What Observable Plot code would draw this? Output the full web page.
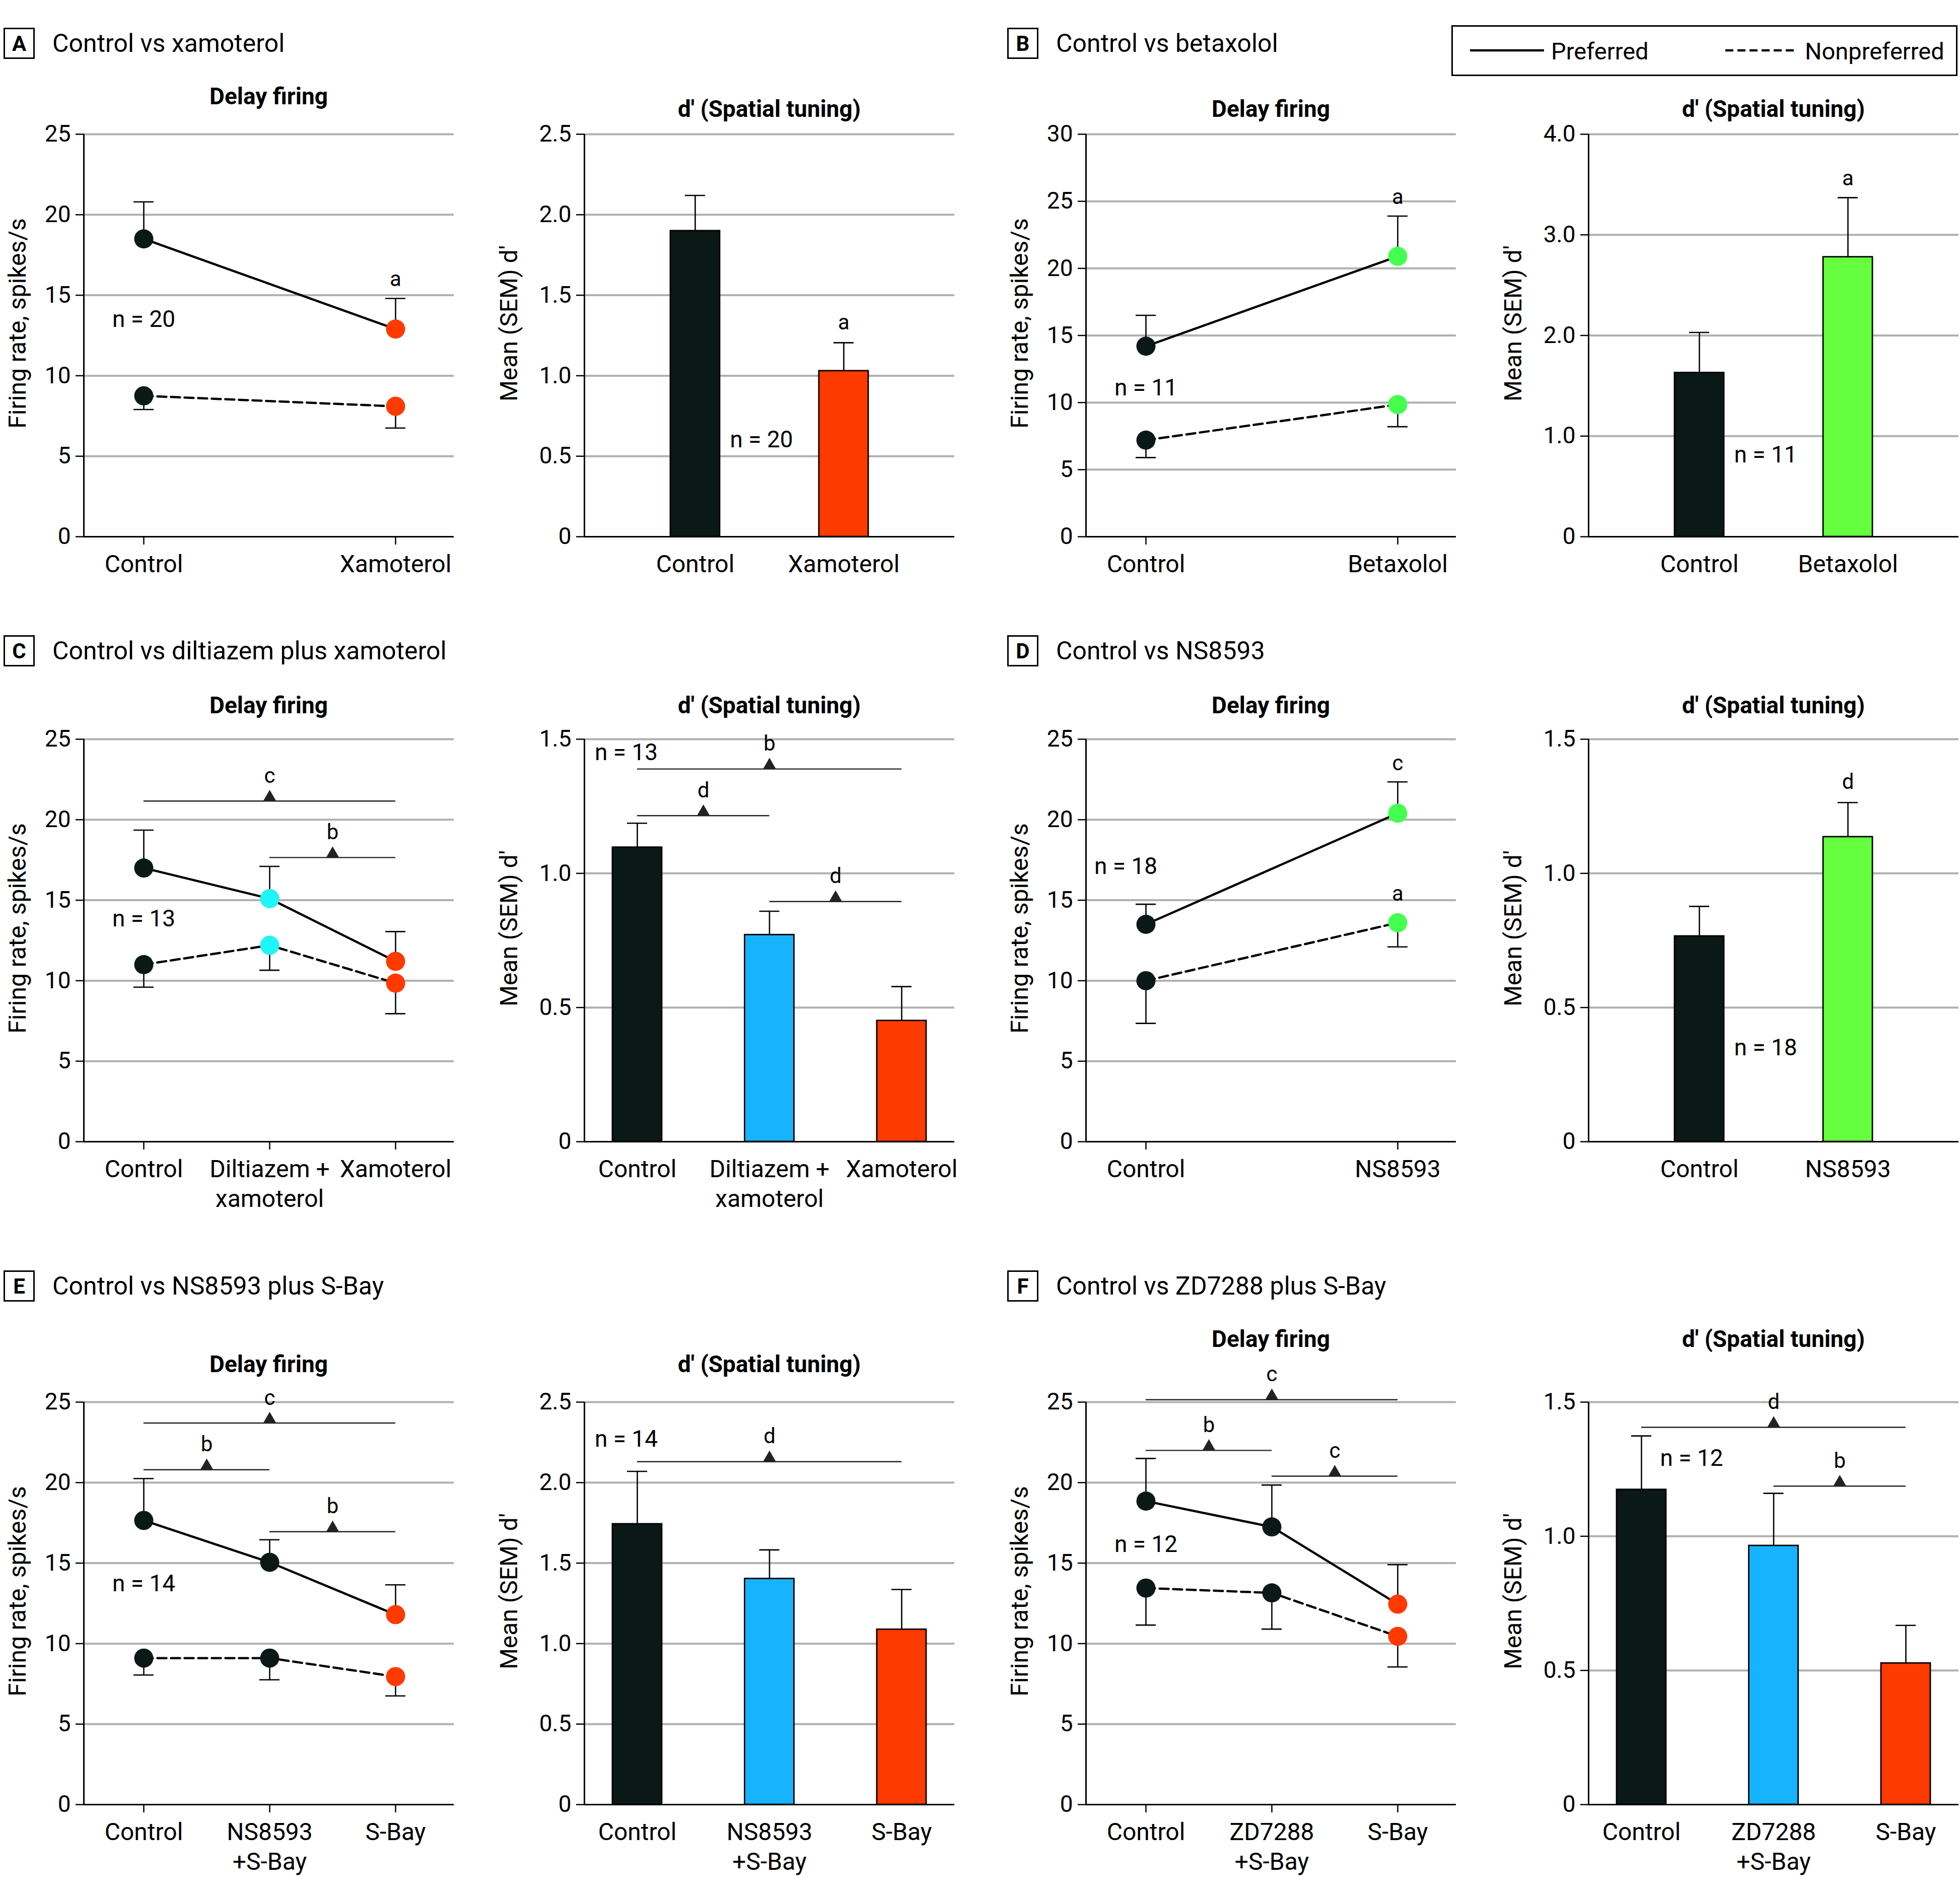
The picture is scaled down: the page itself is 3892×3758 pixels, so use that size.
<!DOCTYPE html>
<html><head><meta charset="utf-8">
<script src="https://cdn.jsdelivr.net/npm/d3@7"></script>
<script src="https://cdn.jsdelivr.net/npm/@observablehq/plot@0.6"></script>
<style>
body{margin:0;background:#fff;}
#root{position:relative;width:3892px;height:3758px;background:#fff;font-family:Roboto,"DejaVu Sans",sans-serif;color:#000;overflow:hidden}
.hdr{position:absolute;display:flex;align-items:center;font-size:50px;white-space:nowrap;height:62px}
.box{box-sizing:border-box;display:inline-flex;align-items:center;justify-content:center;width:62px;height:62px;border:3px solid #000;font-weight:700;font-size:42px;margin-right:35px}
.sub{position:absolute;font-weight:700;font-size:46px;white-space:nowrap;transform:translate(-50%,-50%)}
.plot{position:absolute}
.legend{position:absolute;box-sizing:border-box;border:3px solid #000;font-size:47px}
.legend span{position:absolute;top:50%;transform:translateY(-50%);white-space:nowrap}
</style></head><body><div id="root"></div><script>
// ---------------- DATA ----------------
// Panel A: Control vs xamoterol
const aCats = ["Control", "Xamoterol"];
const aPref = [18.5, 12.9];
const aPrefSem = [2.3, 1.9];
const aNonpref = [8.75, 8.1];
const aNonprefSem = [0.85, 1.35];
const aDprime = [1.9, 1.03];
const aDprimeSem = [0.22, 0.175];
const aDelayLetters = [{x: 1, y: 16.0, label: "a"}];
const aDprimeLetters = [{x: 1, y: 1.33, label: "a"}];

// Panel B: Control vs betaxolol
const bCats = ["Control", "Betaxolol"];
const bPref = [14.2, 20.9];
const bPrefSem = [2.3, 3.0];
const bNonpref = [7.2, 9.85];
const bNonprefSem = [1.3, 1.65];
const bDprime = [1.63, 2.78];
const bDprimeSem = [0.4, 0.59];
const bDelayLetters = [{x: 1, y: 25.3, label: "a"}];
const bDprimeLetters = [{x: 1, y: 3.56, label: "a"}];

// Panel C: Control vs diltiazem plus xamoterol
const cCats = ["Control", "Diltiazem +\nxamoterol", "Xamoterol"];
const cPref = [17.0, 15.1, 11.2];
const cPrefSem = [2.35, 2.0, 1.85];
const cNonpref = [11.0, 12.2, 9.85];
const cNonprefSem = [1.4, 1.55, 1.9];
const cDprime = [1.097, 0.771, 0.451];
const cDprimeSem = [0.09, 0.088, 0.127];
const cDelayBrackets = [{from: 0, to: 2, y: 21.16, label: "c"}, {from: 1, to: 2, y: 17.65, label: "b"}];
const cDprimeBrackets = [{from: 0, to: 2, y: 1.389, label: "b"}, {from: 0, to: 1, y: 1.215, label: "d"}, {from: 1, to: 2, y: 0.895, label: "d"}];

// Panel D: Control vs NS8593
const dCats = ["Control", "NS8593"];
const dPref = [13.5, 20.4];
const dPrefSem = [1.25, 1.95];
const dNonpref = [10.0, 13.6];
const dNonprefSem = [2.65, 1.5];
const dDprime = [0.766, 1.136];
const dDprimeSem = [0.111, 0.128];
const dDelayLetters = [{x: 1, y: 23.5, label: "c"}, {x: 1, y: 15.4, label: "a"}];
const dDprimeLetters = [{x: 1, y: 1.34, label: "d"}];

// Panel E: Control vs NS8593 plus S-Bay
const eCats = ["Control", "NS8593\n+S-Bay", "S-Bay"];
const ePref = [17.65, 15.05, 11.8];
const ePrefSem = [2.6, 1.4, 1.85];
const eNonpref = [9.1, 9.1, 7.95];
const eNonprefSem = [1.05, 1.35, 1.2];
const eDprime = [1.743, 1.403, 1.088];
const eDprimeSem = [0.327, 0.179, 0.248];
const eDelayBrackets = [{from: 0, to: 2, y: 23.7, label: "c"}, {from: 0, to: 1, y: 20.8, label: "b"}, {from: 1, to: 2, y: 16.95, label: "b"}];
const eDprimeBrackets = [{from: 0, to: 2, y: 2.13, label: "d"}];

// Panel F: Control vs ZD7288 plus S-Bay
const fCats = ["Control", "ZD7288\n+S-Bay", "S-Bay"];
const fPref = [18.85, 17.25, 12.45];
const fPrefSem = [2.65, 2.6, 2.45];
const fNonpref = [13.45, 13.15, 10.45];
const fNonprefSem = [2.3, 2.25, 1.9];
const fDprime = [1.174, 0.965, 0.527];
const fDprimeSem = [0.2, 0.195, 0.141];
const fDelayBrackets = [{from: 0, to: 2, y: 25.15, label: "c"}, {from: 0, to: 1, y: 22.0, label: "b"}, {from: 1, to: 2, y: 20.4, label: "c"}];
const fDprimeBrackets = [{from: 0, to: 2, y: 1.406, label: "d"}, {from: 1, to: 2, y: 1.187, label: "b"}];

// sample sizes
const nA = "n = 20", nB = "n = 11", nC = "n = 13", nD = "n = 18", nE = "n = 14", nF = "n = 12";

// texts
const panelLetters = ["A", "B", "C", "D", "E", "F"];
const panelTitles = ["Control vs xamoterol", "Control vs betaxolol", "Control vs diltiazem plus xamoterol",
  "Control vs NS8593", "Control vs NS8593 plus S-Bay", "Control vs ZD7288 plus S-Bay"];
const delayTitle = "Delay firing";
const dprimeTitle = "d' (Spatial tuning)";
const delayYLabel = "Firing rate, spikes/s";
const dprimeYLabel = "Mean (SEM) d'";
const legendLabels = ["Preferred", "Nonpreferred"];

// ---------------- STYLE / LAYOUT ----------------
const FONT = 'Roboto, "DejaVu Sans", sans-serif';
const COL = {black: "#0a1816", orange: "#ff3a00", greenDot: "#44ff50", greenBar: "#66ff40", cyan: "#1ff4f6", blue: "#16b3ff"};
const GRID = "#b0b0b0";
const colAxisX = [166, 1160, 2156, 3154];
const rowTop = [266, 1467, 2783];
const PW = 735, PH = 799;
const ML = 170, MR = 6, MT = 110, MB = 180;
const XLAY = {delay: {first: 119, last: 619}, bar2: {first: 220, last: 515}, bar3: {first: 105, last: 630}};

const root = document.getElementById("root");

function xGeom(kind, n) {
  const L = XLAY[kind];
  const step = (L.last - L.first) / (n - 1);
  return {step, lo: -L.first / step, hi: (n - 1) + (PW - L.last) / step};
}

function frameMarks(cats, yMax, yStep, fmt, yLabel, yLabelDx, lo, xTickSize) {
  const ticks = d3.range(0, yMax + 1e-9, yStep);
  return [
    Plot.ruleY(ticks.filter(t => t > 0), {y: d => d, stroke: GRID, strokeWidth: 4}),
    Plot.axisY({ticks, tickFormat: fmt, tickSize: 16, tickPadding: 10, fontSize: 46, strokeWidth: 2.5, label: null}),
    Plot.axisX({ticks: d3.range(cats.length), tickFormat: i => cats[i], tickSize: xTickSize, tickPadding: xTickSize ? 13 : 29,
      fontSize: 48, strokeWidth: 2.5, lineHeight: 1.22, label: null}),
    Plot.ruleX([lo], {x: d => d, y1: 0, y2: yMax, strokeWidth: 3}),
    Plot.ruleY([0], {y: d => d, strokeWidth: 3}),
    Plot.text([yLabel], {text: d => d, frameAnchor: "left", rotate: -90, dx: yLabelDx, dy: -24, fontSize: 48, textAnchor: "middle"})
  ];
}

function bracketMarks(br) {
  if (!br || !br.length) return [];
  const mid = d => (d.from + d.to) / 2;
  return [
    Plot.ruleY(br, {y: "y", x1: "from", x2: "to", strokeWidth: 2.4, stroke: "#222"}),
    Plot.dot(br, {x: mid, y: "y", symbol: "triangle", r: 9.5, fill: "#222", stroke: "none", dy: -7.5}),
    Plot.text(br, {x: mid, y: "y", text: "label", dy: -50, fontSize: 42})
  ];
}

function letterMarks(ls) {
  if (!ls || !ls.length) return [];
  return [Plot.text(ls, {x: "x", y: "y", text: "label", fontSize: 42})];
}

function nMark(text, y, nStyle) {
  return Plot.text([{x: 0, y, text}], {x: "x", y: "y", text: "text", fontSize: 46,
    textAnchor: nStyle.anchor || "middle", dx: nStyle.dx || 0});
}

function place(svg, row, col) {
  svg.classList.add("plot");
  svg.style.left = (colAxisX[col] - ML) + "px";
  svg.style.top = (rowTop[row] - MT) + "px";
  svg.style.overflow = "visible";
  root.appendChild(svg);
}

function delayPlot(p) {
  const n = p.cats.length;
  const g = xGeom("delay", n);
  const cap = 20 / g.step;
  const prefRows = p.cats.map((c, i) => ({i, v: p.pref[i], sem: p.prefSem[i], color: p.dotColors[i]}));
  const nonRows = p.cats.map((c, i) => ({i, v: p.nonpref[i], sem: p.nonprefSem[i], color: p.dotColors[i]}));
  const svg = Plot.plot({
    width: ML + PW + MR, height: MT + PH + MB,
    marginLeft: ML, marginRight: MR, marginTop: MT, marginBottom: MB,
    x: {domain: [g.lo, g.hi]}, y: {domain: [0, p.yMax]},
    color: {type: "identity"},
    style: {fontFamily: FONT, background: "transparent", color: "#000"},
    marks: [
      ...frameMarks(p.cats, p.yMax, 5, d => String(d), delayYLabel, -131, g.lo, 16),
      ...bracketMarks(p.brackets),
      ...letterMarks(p.letters),
      nMark(p.nText, p.nY, p.nStyle || {}),
      Plot.ruleX(prefRows, {x: "i", y1: "v", y2: d => d.v + d.sem, strokeWidth: 2.6}),
      Plot.ruleY(prefRows, {y: d => d.v + d.sem, x1: d => d.i - cap, x2: d => d.i + cap, strokeWidth: 2.6}),
      Plot.ruleX(nonRows, {x: "i", y1: "v", y2: d => d.v - d.sem, strokeWidth: 2.6}),
      Plot.ruleY(nonRows, {y: d => d.v - d.sem, x1: d => d.i - cap, x2: d => d.i + cap, strokeWidth: 2.6}),
      Plot.line(prefRows, {x: "i", y: "v", stroke: "#000", strokeWidth: 4.5}),
      Plot.line(nonRows, {x: "i", y: "v", stroke: "#000", strokeWidth: 4.5, strokeDasharray: "18,9"}),
      Plot.dot(prefRows.concat(nonRows), {x: "i", y: "v", r: 19, fill: "color", stroke: "none"})
    ]
  });
  place(svg, p.row, p.col);
}

function barPlot(p) {
  const n = p.cats.length;
  const g = xGeom(n === 2 ? "bar2" : "bar3", n);
  const hw = 49 / g.step, cap = 20 / g.step;
  const rows = p.cats.map((c, i) => ({i, v: p.vals[i], sem: p.sems[i], color: p.barColors[i]}));
  const fmt = d => d === 0 ? "0" : d.toFixed(1);
  const svg = Plot.plot({
    width: ML + PW + MR, height: MT + PH + MB,
    marginLeft: ML, marginRight: MR, marginTop: MT, marginBottom: MB,
    x: {domain: [g.lo, g.hi]}, y: {domain: [0, p.yMax]},
    color: {type: "identity"},
    style: {fontFamily: FONT, background: "transparent", color: "#000"},
    marks: [
      ...frameMarks(p.cats, p.yMax, p.yStep, fmt, dprimeYLabel, -149, g.lo, 0),
      Plot.ruleX(rows, {x: "i", y1: "v", y2: d => d.v + d.sem, strokeWidth: 2.6}),
      Plot.ruleY(rows, {y: d => d.v + d.sem, x1: d => d.i - cap, x2: d => d.i + cap, strokeWidth: 2.6}),
      Plot.rectY(rows, {x1: d => d.i - hw, x2: d => d.i + hw, y1: 0, y2: "v", fill: "color", stroke: "#000", strokeWidth: 2.8}),
      Plot.ruleY([0], {y: d => d, strokeWidth: 3}),
      ...bracketMarks(p.brackets),
      ...letterMarks(p.letters),
      nMark(p.nText, p.nY, p.nStyle || {})
    ]
  });
  place(svg, p.row, p.col);
}

// ---------------- PANELS ----------------
const K = COL.black, O = COL.orange;
delayPlot({row: 0, col: 0, cats: aCats, pref: aPref, prefSem: aPrefSem, nonpref: aNonpref, nonprefSem: aNonprefSem,
  yMax: 25, dotColors: [K, O], letters: aDelayLetters, nText: nA, nY: 13.5});
barPlot({row: 0, col: 1, cats: aCats, vals: aDprime, sems: aDprimeSem, yMax: 2.5, yStep: 0.5, barColors: [K, O],
  letters: aDprimeLetters, nText: nA, nY: 0.6, nStyle: {anchor: "start", dx: 69}});
delayPlot({row: 0, col: 2, cats: bCats, pref: bPref, prefSem: bPrefSem, nonpref: bNonpref, nonprefSem: bNonprefSem,
  yMax: 30, dotColors: [K, COL.greenDot], letters: bDelayLetters, nText: nB, nY: 11.1});
barPlot({row: 0, col: 3, cats: bCats, vals: bDprime, sems: bDprimeSem, yMax: 4, yStep: 1, barColors: [K, COL.greenBar],
  letters: bDprimeLetters, nText: nB, nY: 0.81, nStyle: {anchor: "start", dx: 69}});
delayPlot({row: 1, col: 0, cats: cCats, pref: cPref, prefSem: cPrefSem, nonpref: cNonpref, nonprefSem: cNonprefSem,
  yMax: 25, dotColors: [K, COL.cyan, O], brackets: cDelayBrackets, nText: nC, nY: 13.85});
barPlot({row: 1, col: 1, cats: cCats, vals: cDprime, sems: cDprimeSem, yMax: 1.5, yStep: 0.5, barColors: [K, COL.blue, O],
  brackets: cDprimeBrackets, nText: nC, nY: 1.45, nStyle: {dx: -22}});
delayPlot({row: 1, col: 2, cats: dCats, pref: dPref, prefSem: dPrefSem, nonpref: dNonpref, nonprefSem: dNonprefSem,
  yMax: 25, dotColors: [K, COL.greenDot], letters: dDelayLetters, nText: nD, nY: 17.1, nStyle: {dx: -40}});
barPlot({row: 1, col: 3, cats: dCats, vals: dDprime, sems: dDprimeSem, yMax: 1.5, yStep: 0.5, barColors: [K, COL.greenBar],
  letters: dDprimeLetters, nText: nD, nY: 0.35, nStyle: {anchor: "start", dx: 69}});
delayPlot({row: 2, col: 0, cats: eCats, pref: ePref, prefSem: ePrefSem, nonpref: eNonpref, nonprefSem: eNonprefSem,
  yMax: 25, dotColors: [K, K, O], brackets: eDelayBrackets, nText: nE, nY: 13.7});
barPlot({row: 2, col: 1, cats: eCats, vals: eDprime, sems: eDprimeSem, yMax: 2.5, yStep: 0.5, barColors: [K, COL.blue, O],
  brackets: eDprimeBrackets, nText: nE, nY: 2.27, nStyle: {dx: -22}});
delayPlot({row: 2, col: 2, cats: fCats, pref: fPref, prefSem: fPrefSem, nonpref: fNonpref, nonprefSem: fNonprefSem,
  yMax: 25, dotColors: [K, K, O], brackets: fDelayBrackets, nText: nF, nY: 16.15});
barPlot({row: 2, col: 3, cats: fCats, vals: fDprime, sems: fDprimeSem, yMax: 1.5, yStep: 0.5, barColors: [K, COL.blue, O],
  brackets: fDprimeBrackets, nText: nF, nY: 1.29, nStyle: {anchor: "start", dx: 37}});

// ---------------- HEADERS / TITLES ----------------
const hdrPos = [[7, 55], [2000, 55], [7, 1261], [2000, 1261], [7, 2522], [2000, 2522]];
panelLetters.forEach((L, k) => {
  const d = document.createElement("div");
  d.className = "hdr";
  d.style.left = hdrPos[k][0] + "px"; d.style.top = hdrPos[k][1] + "px";
  const b = document.createElement("span"); b.className = "box"; b.textContent = L;
  const t = document.createElement("span"); t.textContent = panelTitles[k];
  d.appendChild(b); d.appendChild(t);
  root.appendChild(d);
});
const subY = [[191, 216, 216, 216], [1400, 1400, 1400, 1400], [2708, 2708, 2658, 2658]];
for (let r = 0; r < 3; r++) for (let c = 0; c < 4; c++) {
  const d = document.createElement("div");
  d.className = "sub";
  d.textContent = c % 2 === 0 ? delayTitle : dprimeTitle;
  d.style.left = (colAxisX[c] + PW / 2) + "px";
  d.style.top = subY[r][c] + "px";
  root.appendChild(d);
}

// ---------------- LEGEND ----------------
const lg = document.createElement("div");
lg.className = "legend";
Object.assign(lg.style, {left: "2882px", top: "50px", width: "1005px", height: "101px"});
const ns = "http://www.w3.org/2000/svg";
const lsvg = document.createElementNS(ns, "svg");
lsvg.setAttribute("width", "1000"); lsvg.setAttribute("height", "95");
lsvg.style.position = "absolute"; lsvg.style.left = "0"; lsvg.style.top = "0";
[[34, 181, null], [541, 685, "16,8"]].forEach(([x1, x2, dash]) => {
  const l = document.createElementNS(ns, "line");
  l.setAttribute("x1", x1); l.setAttribute("x2", x2); l.setAttribute("y1", 47); l.setAttribute("y2", 47);
  l.setAttribute("stroke", "#000"); l.setAttribute("stroke-width", "4.5");
  if (dash) l.setAttribute("stroke-dasharray", dash);
  lsvg.appendChild(l);
});
lg.appendChild(lsvg);
[[195, legendLabels[0]], [699, legendLabels[1]]].forEach(([x, t]) => {
  const s = document.createElement("span"); s.style.left = x + "px"; s.textContent = t; lg.appendChild(s);
});
root.appendChild(lg);
</script></body></html>
